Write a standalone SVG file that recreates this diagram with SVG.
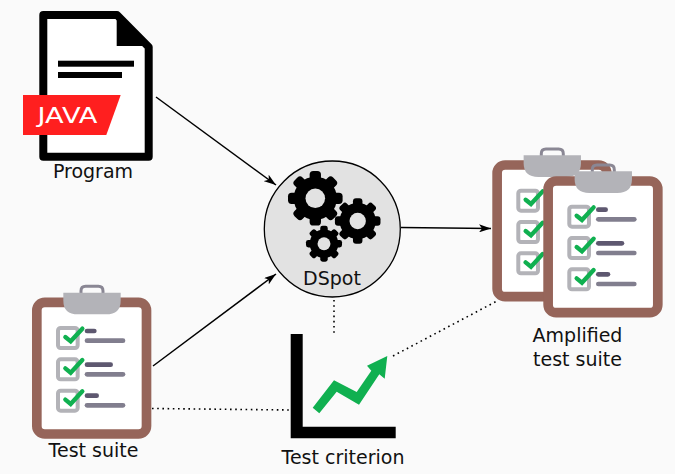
<svg xmlns="http://www.w3.org/2000/svg" width="675" height="474" viewBox="0 0 675 474">
<style>
text{font-family:"DejaVu Sans",sans-serif;font-size:19px;fill:#111;text-anchor:middle}
.c{fill:none;stroke:#000;stroke-width:1.5}
.d{fill:none;stroke:#000;stroke-width:1.6;stroke-dasharray:1.6 3.6}
.box{fill:#fff;stroke:#b3b3b8;stroke-width:12}
.chk{fill:none;stroke:#10b050;stroke-width:13;stroke-linecap:round;stroke-linejoin:miter}
.dk{stroke:#5e5870;stroke-width:14;stroke-linecap:round}
.gr{stroke:#817e8e;stroke-width:14;stroke-linecap:round}
</style>
<defs>
<marker id="a" viewBox="0 0 12 8" refX="12" refY="4" markerWidth="12" markerHeight="8" markerUnits="userSpaceOnUse" orient="auto"><path d="M0 0L12 4L0 8L3 4Z" fill="#000"/></marker>
<g id="gear"><circle r="21"/>
<rect x="-5.500" y="-26.500" width="11" height="53" rx="3.500"/>
<rect x="-5.500" y="-26.500" width="11" height="53" rx="3.500" transform="rotate(45)"/>
<rect x="-5.500" y="-26.500" width="11" height="53" rx="3.500" transform="rotate(90)"/>
<rect x="-5.500" y="-26.500" width="11" height="53" rx="3.500" transform="rotate(135)"/>
<circle r="9.500" fill="#e2e2e2"/></g>
<g id="clipboard">
<rect x="50.500" y="67" width="329" height="395" rx="24" fill="#fff" stroke="#96655a" stroke-width="29"/>
<path d="M183 40V33Q183 19 197 19H235Q249 19 249 33V40" fill="none" stroke="#8a8794" stroke-width="9"/>
<path d="M130 38H302V62Q302 103 258 103H174Q130 103 130 62Z" fill="#b3b3b8"/>
<rect x="114" y="144" width="59" height="60" rx="8" class="box"/>
<rect x="114" y="238" width="59" height="60" rx="8" class="box"/>
<rect x="114" y="332" width="59" height="60" rx="8" class="box"/>
<path d="M136 171L152 184L187 146" class="chk"/>
<path d="M136 265L152 278L187 240" class="chk"/>
<path d="M136 359L152 372L187 334" class="chk"/>
<path d="M201 153H223" class="dk"/><path d="M201 182H309" class="gr"/>
<path d="M201 254H272" class="dk"/><path d="M201 283H309" class="gr"/>
<path d="M201 347H230" class="dk"/><path d="M201 376H309" class="gr"/>
</g>
</defs>
<rect width="675" height="474" fill="#fafafa"/>
<g id="connectors">
<path class="c" d="M156 97L276 185" marker-end="url(#a)"/>
<path class="c" d="M153 366L276 274" marker-end="url(#a)"/>
<path class="c" d="M401 227.500L491 228.500" marker-end="url(#a)"/>
<path class="d" d="M334 300V335"/>
<path class="d" d="M393 356L497 301"/>
<path class="d" d="M152 408.500L291 410"/>
</g>
<g id="program">
<path d="M43.300 15H117L148.700 47V156.700H43.300Z" fill="#fff" stroke="#000" stroke-width="8" stroke-linejoin="round"/>
<path d="M116.700 17V46H148Z" fill="#000"/>
<rect x="58" y="60.700" width="76" height="6"/>
<rect x="58" y="72" width="64" height="6"/>
<path d="M23 95H120.700L106.300 135H23Z" fill="#ff1f1f"/>
<text x="67.500" y="123.300" textLength="60" lengthAdjust="spacingAndGlyphs" style="font-size:22px;fill:#fff">JAVA</text>
<text x="93" y="178">Program</text>
</g>
<g id="test-suite">
<g transform="translate(20 280) scale(.33333)"><use href="#clipboard"/></g>
<text x="93.500" y="457">Test suite</text>
</g>
<g id="dspot">
<circle cx="332.300" cy="229" r="68" fill="#e2e2e2" stroke="#000" stroke-width="1.300"/>
<use href="#gear" transform="translate(315.300 198.300) scale(1.030)"/>
<use href="#gear" transform="translate(357.700 221) scale(.86)"/>
<use href="#gear" transform="translate(324 243.700) scale(.68)"/>
<text x="332" y="285">DSpot</text>
</g>
<g id="test-criterion">
<path d="M290.700 334H302.700V426.700H395.700V438.300H290.700Z"/>
<path d="M312.700 407.700L334 380.300L356.700 392L371.300 370.700L367 365.700L387.300 356L384.700 378.700L379.300 374.300L359 404.700L336.700 391.700L319.300 413.300Z" fill="#10b050"/>
<text x="343" y="464">Test criterion</text>
</g>
<g id="amplified-test-suite">
<g transform="translate(480.300 142.700) scale(.33333)"><use href="#clipboard"/></g>
<g transform="translate(531.300 158.700) scale(.33333)"><use href="#clipboard"/></g>
<text x="577.500" y="342">Amplified</text>
<text x="577.500" y="366">test suite</text>
</g>
</svg>
